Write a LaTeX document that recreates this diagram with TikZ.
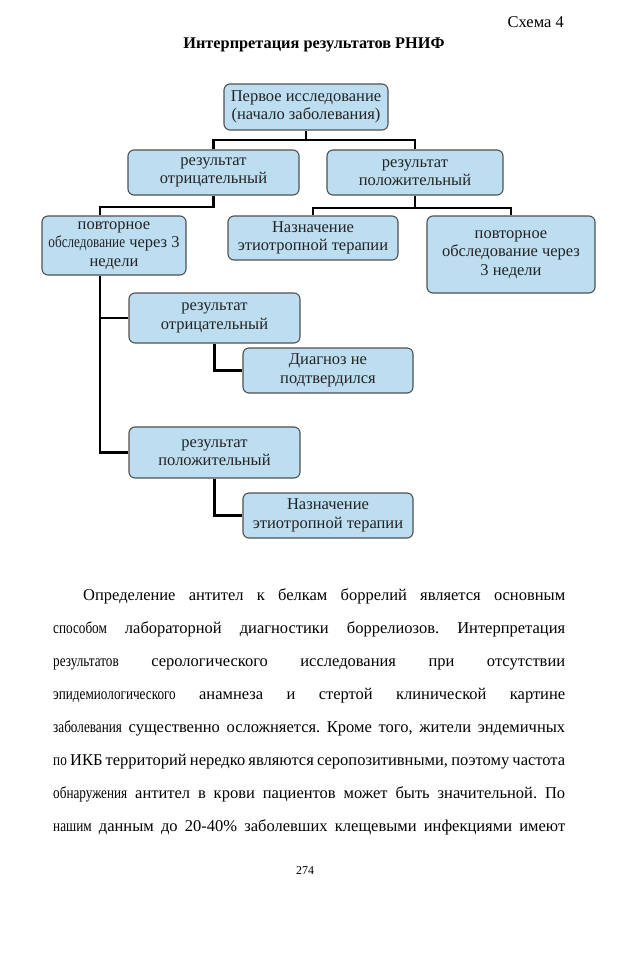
\documentclass[tikz,border=0pt]{standalone}
\usepackage{fontspec}
\usepackage{graphicx}
\setmainfont{Liberation Serif}
\frenchspacing
\definecolor{boxblue}{RGB}{189,221,241}
\definecolor{boxline}{RGB}{80,80,80}
\definecolor{boxtext}{RGB}{35,35,35}
\newcommand{\cnd}[1]{\scalebox{0.8}[1]{#1}}
\tikzset{
  box/.style={draw=boxline, line width=1.1pt, fill=boxblue, rounded corners=6pt,
    align=center, inner sep=0pt, text=boxtext,
    font=\fontsize{16.5}{18.5}\selectfont},
  conn/.style={draw=black, line width=2.6pt},
  bodyline/.style={anchor=base west, inner sep=0pt, font=\fontsize{16.5}{20}\selectfont}
}
\begin{document}
\begin{tikzpicture}[x=1pt,y=-1pt]
\useasboundingbox[fill=white] (0,0) rectangle (638,960);
% headings
\node[anchor=base east, inner sep=0pt, font=\fontsize{16.5}{20}\selectfont] (schema) at (564,28) {Схема 4};
\node[anchor=base, inner sep=0pt, font=\bfseries\fontsize{16.3}{20}\selectfont] (title) at (314,49) {Интерпретация результатов РНИФ};
% boxes
\node[box, minimum width=164pt, minimum height=46pt] (top) at (306,107) {Первое исследование\\(начало заболевания)};
\node[box, minimum width=171pt, minimum height=45pt] (L1) at (213.5,172.5) {результат\\отрицательный};
\node[box, minimum width=176pt, minimum height=45pt] (R1) at (415,172.5) {результат\\положительный};
\node[box, minimum width=144pt, minimum height=59pt] (LL) at (114,245.5) {повторное\\\cnd{обследование} через 3\\недели};
\node[box, minimum width=170pt, minimum height=44pt] (M) at (313,238) {Назначение\\этиотропной терапии};
\node[box, minimum width=168pt, minimum height=77pt] (RR) at (511,254.5) {повторное\\обследование через\\3 недели};
\node[box, minimum width=171pt, minimum height=50pt] (L2) at (214.5,318) {результат\\отрицательный};
\node[box, minimum width=170pt, minimum height=45pt] (D) at (328,370.5) {Диагноз не\\подтвердился};
\node[box, minimum width=171pt, minimum height=51pt] (L3) at (214.5,452.5) {результат\\положительный};
\node[box, minimum width=170pt, minimum height=45pt] (N) at (328,515.5) {Назначение\\этиотропной терапии};
% connectors
\coordinate (j1) at (306,140);
\coordinate (j2) at (415,208);
\coordinate (s1) at (100,207);
\draw[conn] (top.south) -- (j1);
\draw[conn] (L1.north) |- (j1) -| (R1.north);
\draw[conn] (R1.south) -- (j2);
\draw[conn] (M.north) |- (j2) -| (RR.north);
\draw[conn] (L1.south) |- (s1) -- (s1 |- LL.north);
\draw[conn] (s1 |- LL.south) -- (s1 |- L3.west) -- (L3.west);
\draw[conn] (s1 |- L2.west) -- (L2.west);
\draw[conn] (L2.south) |- (D.west);
\draw[conn] (L3.south) |- (N.west);
% body text
\node[bodyline] (t1) at (83,600) {\makebox[482pt][s]{Определение антител к белкам боррелий является основным}};
\node[bodyline] (t2) at (53,633) {\makebox[512pt][s]{\cnd{способом} лабораторной диагностики боррелиозов. Интерпретация}};
\node[bodyline] (t3) at (53,666) {\makebox[512pt][s]{\cnd{результатов} серологического исследования при отсутствии}};
\node[bodyline] (t4) at (53,699) {\makebox[512pt][s]{\cnd{эпидемиологического} анамнеза и стертой клинической картине}};
\node[bodyline] (t5) at (53,732) {\makebox[512pt][s]{\cnd{заболевания} существенно осложняется. Кроме того, жители эндемичных}};
\node[bodyline] (t6) at (53,765) {\makebox[512pt][s]{\cnd{по} ИКБ территорий нередко являются серопозитивными, поэтому частота}};
\node[bodyline] (t7) at (53,798) {\makebox[512pt][s]{\cnd{обнаружения} антител в крови пациентов может быть значительной. По}};
\node[bodyline] (t8) at (53,831) {\makebox[512pt][s]{\cnd{нашим} данным до 20-40\% заболевших клещевыми инфекциями имеют}};
\node[anchor=base, inner sep=0pt, font=\fontsize{12}{14}\selectfont] (page) at (305,874) {274};
\end{tikzpicture}
\end{document}
